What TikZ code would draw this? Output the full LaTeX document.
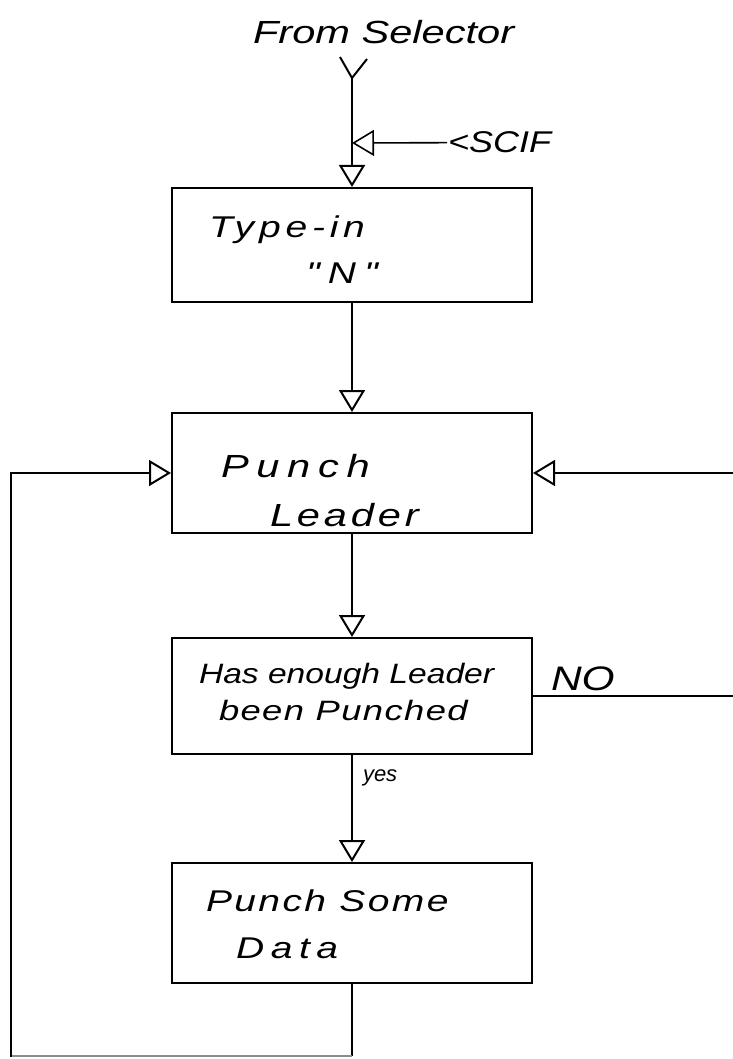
\documentclass[tikz,border=0pt]{standalone}
\usepackage{fontspec}
\newfontfamily\hand{Liberation Sans}
\usetikzlibrary{arrows.meta}
\newcommand\ls[3]{{\addfontfeature{FakeStretch=#1,LetterSpace=#2}#3}}
\begin{document}
\begin{tikzpicture}[x=1pt,y=-1pt,line width=2pt,
  box/.style={draw, minimum width=360pt, inner sep=0pt, line width=2pt},
  oarrow/.style={-{Triangle[open,length=22pt,width=26pt]}},
  hw/.style={anchor=base west, inner sep=0pt, font=\hand\itshape\fontsize{30}{36}\selectfont},
]
\useasboundingbox[fill=white] (0,0) rectangle (732,1059);

% boxes
\node[box, minimum height=114pt] (b1) at (352,245) {};
\node[box, minimum height=120pt] (b2) at (352,473) {};
\node[box, minimum height=116pt] (b3) at (352,696) {};
\node[box, minimum height=120pt] (b4) at (352,923) {};

% texts
\node[hw, font=\hand\itshape\fontsize{32}{38}\selectfont] (from) at (252,44) {\ls{1.3}{0}{From Selector}};
\node[hw] (scif) at (447,153) {\ls{1.2}{0}{<SCIF}};
\node[hw] (t1a) at (208,238) {\ls{1.3}{16}{Type-in}};
\node[hw] (t1b) at (305,283) {\ls{1.3}{27}{"N"}};
\node[hw, font=\hand\itshape\fontsize{32}{38}\selectfont] (t2a) at (220,477) {\ls{1.3}{24}{Punch}};
\node[hw, font=\hand\itshape\fontsize{32}{38}\selectfont] (t2b) at (269,526) {\ls{1.3}{12}{Leader}};
\node[hw, font=\hand\itshape\fontsize{28}{34}\selectfont] (t3a) at (198,683) {\ls{1.2}{0}{Has enough Leader}};
\node[hw, font=\hand\itshape\fontsize{28}{34}\selectfont] (t3b) at (218,720) {\ls{1.3}{5}{been Punched}};
\node[hw, font=\hand\itshape\fontsize{34}{40}\selectfont] (no) at (550,690) {\ls{1.25}{0}{NO}};
\node[hw, font=\hand\itshape\fontsize{22}{26}\selectfont] (yes) at (362,781) {\ls{1.0}{0}{yes}};
\node[hw] (t4a) at (205,911) {\ls{1.3}{8}{Punch Some}};
\node[hw] (t4b) at (235,958) {\ls{1.3}{22}{Data}};

% connectors
\coordinate (fork) at (352,78);
\coordinate (forkl) at (340,57);
\coordinate (forkr) at (367,59);
\coordinate (jn) at (352,143);
\draw (forkl) -- (fork) -- (forkr);
\draw[oarrow] (fork) -- (b1.north);
\draw[oarrow, line width=1.6pt] (scif.west) -- (jn);
\draw[oarrow] (b1.south) -- (b2.north);
\draw[oarrow] (b2.south) -- (b3.north);
\draw[oarrow] (b3.south) -- (b4.north);
\coordinate (rc) at (745,696);
\draw[oarrow] (b3.east) -- (rc) |- (b2.east);
\coordinate (lb) at (352,1056);
\coordinate (lc) at (11,1056);
\draw (b4.south) -- (lb);
\draw[black!45, line width=1.2pt] (lb) -- (lc);
\draw[oarrow, line cap=rect] (lc) |- (b2.west);
\end{tikzpicture}
\end{document}
